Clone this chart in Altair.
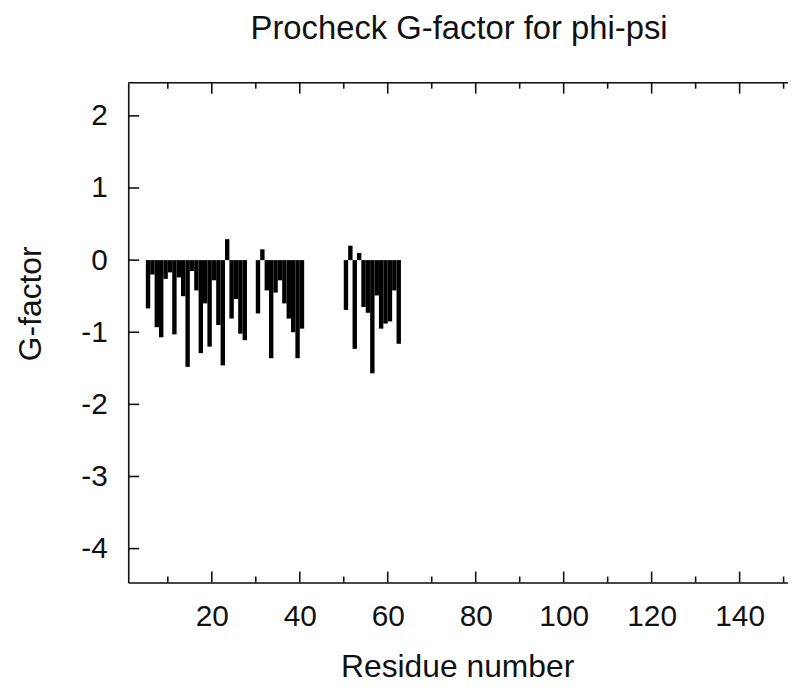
import altair as alt
import pandas as pd

# Residue numbers and G-factor values (phi-psi)
residues = [5, 6, 7, 8, 9, 10, 11, 12, 13, 14, 15, 16, 17, 18, 19, 20, 21, 22, 23, 24, 25, 26, 27,
            30, 31, 32, 33, 34, 35, 36, 37, 38, 39, 40,
            50, 51, 52, 53, 54, 55, 56, 57, 58, 59, 60, 61, 62]
gfactor = [-0.67, -0.20, -0.93, -1.07, -0.26, -0.17, -1.03, -0.24, -0.50, -1.48, -0.15, -0.42,
           -1.29, -0.60, -1.20, -0.28, -0.90, -1.46, 0.29, -0.81, -0.54, -1.02, -1.11,
           -0.74, 0.15, -0.42, -1.36, -0.45, -0.28, -0.60, -0.81, -1.00, -1.36, -0.95,
           -0.69, 0.20, -1.23, 0.10, -0.65, -0.73, -1.57, -0.49, -0.95, -0.88, -0.85, -0.42, -1.16]

x_major = [20, 40, 60, 80, 100, 120, 140]
x_minor = [10, 30, 50, 70, 90, 110, 130, 150]
y_major = [-4, -3, -2, -1, 0, 1, 2]

title_text = "Procheck G-factor for phi-psi"
x_title = "Residue number"
y_title = "G-factor"

W, H = 664, 503
FONT = "Liberation Sans"
INK = "#111"

bars_df = pd.DataFrame({"res": residues, "g": gfactor})
bars_df["res_end"] = bars_df["res"] + 1

xscale = alt.Scale(domain=[1, 151], nice=False, zero=False)
yscale = alt.Scale(domain=[-4.47, 2.46], nice=False, zero=False)

xaxis = alt.Axis(values=x_major, ticks=False, grid=False, labelFontSize=30, labelFont=FONT,
                 labelColor=INK, labelPadding=19, domainColor=INK, domainWidth=1.6,
                 title=x_title, titleFont=FONT, titleFontSize=32, titleFontWeight="normal",
                 titleColor=INK, titleX=331, titleY=95, titleBaseline="alphabetic",
                 titleAlign="center")
yaxis = alt.Axis(values=y_major, ticks=False, grid=False, labelFontSize=30, labelFont=FONT,
                 labelColor=INK, labelPadding=21, domainColor=INK, domainWidth=1.6,
                 labelBaseline="middle", labelExpr="'' + datum.value",
                 title=y_title, titleFont=FONT, titleFontSize=32, titleFontWeight="normal",
                 titleColor=INK, titleX=-98, titleY=222, titleAngle=270,
                 titleBaseline="middle", titleAlign="center")

bars = alt.Chart(bars_df).mark_rect(color="black").encode(
    x=alt.X("res:Q", scale=xscale, axis=xaxis),
    x2="res_end:Q",
    y=alt.Y("g:Q", scale=yscale, axis=yaxis),
    y2=alt.datum(0),
)

maj_df = pd.DataFrame({"t": x_major})
min_df = pd.DataFrame({"t": x_minor})
ymaj_df = pd.DataFrame({"t": y_major})
title_df = pd.DataFrame({"label": [title_text]})

tick_style = dict(color=INK, strokeWidth=1.6)

bot_major = alt.Chart(maj_df).mark_rule(**tick_style).encode(
    x=alt.X("t:Q", scale=xscale), y=alt.value(H), y2=alt.value(H - 11))
bot_minor = alt.Chart(min_df).mark_rule(**tick_style).encode(
    x=alt.X("t:Q", scale=xscale), y=alt.value(H), y2=alt.value(H - 6))
top_major = alt.Chart(maj_df).mark_rule(**tick_style).encode(
    x=alt.X("t:Q", scale=xscale), y=alt.value(0), y2=alt.value(11))
top_minor = alt.Chart(min_df).mark_rule(**tick_style).encode(
    x=alt.X("t:Q", scale=xscale), y=alt.value(0), y2=alt.value(6))
left_ticks = alt.Chart(ymaj_df).mark_rule(**tick_style).encode(
    y=alt.Y("t:Q", scale=yscale), x=alt.value(0), x2=alt.value(11))
top_border = alt.Chart(maj_df.head(1)).mark_rule(**tick_style).encode(
    x=alt.value(0), x2=alt.value(W), y=alt.value(0))
title_mark = alt.Chart(title_df).mark_text(
    font=FONT, fontSize=33, color=INK, align="center", baseline="alphabetic"
).encode(text="label:N", x=alt.value(333), y=alt.value(-44))

chart = alt.layer(
    bars, bot_major, bot_minor, top_major, top_minor, left_ticks, top_border, title_mark
).properties(
    width=W, height=H,
    autosize=alt.AutoSizeParams(type="none"),
    padding={"left": 121, "top": 73, "right": 0, "bottom": 104},
).configure_view(stroke=None).configure(background="white")

chart.save("out.html", embed_options={"renderer": "svg", "actions": False})
